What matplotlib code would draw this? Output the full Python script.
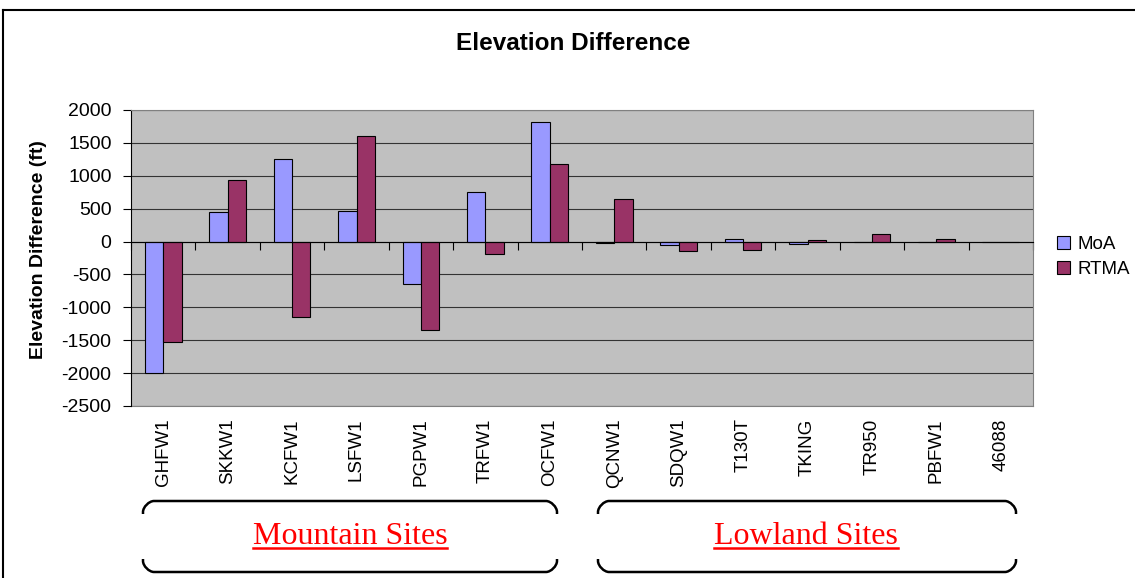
import matplotlib
matplotlib.use("Agg")
import matplotlib.pyplot as plt
from matplotlib.lines import Line2D
from matplotlib.path import Path
from matplotlib.patches import PathPatch, Patch
import numpy as np

sites = ["GHFW1", "SKKW1", "KCFW1", "LSFW1", "PGPW1", "TRFW1", "OCFW1",
         "QCNW1", "SDQW1", "T130T", "TKING", "TR950", "PBFW1", "46088"]
moa = [-2000, 450, 1250, 470, -650, 760, 1810, -15, -55, 45, -35, -12, 0, 0]
rtma = [-1530, 940, -1140, 1610, -1350, -190, 1180, 640, -150, -130, 20, 120, 45, 0]
yticks = [-2500, -2000, -1500, -1000, -500, 0, 500, 1000, 1500, 2000]
groups = ["Mountain Sites", "Lowland Sites"]

plt.rcParams['font.family'] = ['Liberation Sans', 'DejaVu Sans']

W, H = 1135, 578
fig = plt.figure(figsize=(W / 100, H / 100), dpi=100)
L, R, T, B = 131, 1033, 110, 406
ax = fig.add_axes([L / W, 1 - B / H, (R - L) / W, (B - T) / H])
ax.set_facecolor("#C0C0C0")

x = np.arange(len(sites))
w = 1 / 3.5
ax.bar(x - w / 2, moa, w, color="#9999FF", edgecolor="black", linewidth=0.8, zorder=3, label="MoA")
ax.bar(x + w / 2, rtma, w, color="#993366", edgecolor="black", linewidth=0.8, zorder=3, label="RTMA")

ax.set_xlim(-0.5, len(sites) - 0.5)
ax.set_ylim(-2500, 2000)
ax.set_yticks(yticks)
ax.set_yticklabels([str(v) for v in yticks], fontsize=14)
ax.tick_params(axis='y', direction='out', length=6, width=0.8, pad=8)
for v in yticks:
    ax.axhline(v, color="#333333", lw=0.8, zorder=1)

# category axis at zero
ax.spines['bottom'].set_position(('data', 0))
ax.spines['bottom'].set_zorder(4)
ax.set_xticks(np.arange(len(sites) + 1) - 0.5)
ax.set_xticklabels([])
ax.tick_params(axis='x', direction='out', length=6, width=0.8)
ax.spines['left'].set_color('black')
ax.spines['right'].set_color('#808080')
ax.spines['top'].set_color('#808080')

sec = ax.secondary_xaxis(0.0)
sec.set_xticks(x)
sec.set_xticklabels(sites, rotation=90, fontsize=13.5, va='top')
sec.tick_params(length=0, pad=9)
sec.spines['bottom'].set_color('#808080')

ax.set_ylabel("Elevation Difference (ft)", fontsize=14, fontweight='bold')
ax.yaxis.set_label_coords((47 - L) / (R - L), 0.5 + (110 + 296 / 2 - 250) / 296)
fig.text(573 / W, 1 - 43 / H, "Elevation Difference", ha='center', va='center',
         fontsize=17.5, fontweight='bold')

handles = [Patch(facecolor="#9999FF", edgecolor="black", lw=0.8),
           Patch(facecolor="#993366", edgecolor="black", lw=0.8)]
fig.legend(handles, ["MoA", "RTMA"], loc='center left', bbox_to_anchor=(1044 / W, 1 - 257 / H),
           frameon=False, fontsize=13.5, handlelength=0.7, handleheight=0.7,
           handletextpad=0.4, labelspacing=0.45, borderpad=0.2)

# outer frame
fig.add_artist(Line2D([3 / W, 1.0], [1 - 10 / H, 1 - 10 / H], color='black', lw=1.5, transform=fig.transFigure))
fig.add_artist(Line2D([3 / W, 3 / W], [1 - 10 / H, 0], color='black', lw=1.5, transform=fig.transFigure))

# brackets
def bracket(x0, x1, ytop, ybot, r=11, depth=13):
    for (ya, yb) in [(ytop, ytop + depth), (ybot, ybot - depth)]:
        s = 1 if yb > ya else -1
        k = 0.45 * r
        verts = [(x0, yb), (x0, ya + s * r), (x0, ya + s * (r - k)), (x0 + r - k, ya), (x0 + r, ya),
                 (x1 - r, ya), (x1 - r + k, ya), (x1, ya + s * (r - k)), (x1, ya + s * r), (x1, yb)]
        codes = [Path.MOVETO, Path.LINETO, Path.CURVE4, Path.CURVE4, Path.CURVE4,
                 Path.LINETO, Path.CURVE4, Path.CURVE4, Path.CURVE4, Path.LINETO]
        verts = [(vx / W, 1 - vy / H) for vx, vy in verts]
        fig.add_artist(PathPatch(Path(verts, codes), fill=False, lw=1.8, ec='black',
                                 transform=fig.transFigure))

bracket(143, 557, 501, 572)
bracket(598, 1016, 501, 572)

for cx, txt in zip([350, 806], groups):
    fig.text(cx / W, 1 - 537 / H, txt, ha='center', va='center', color='red',
             fontsize=23, family='Liberation Serif')
fig.canvas.draw()
rend = fig.canvas.get_renderer()
for t in fig.texts:
    if t.get_text() in groups:
        bb = t.get_window_extent(rend).transformed(fig.transFigure.inverted())
        fig.add_artist(Line2D([bb.x0, bb.x1], [bb.y0 + 0.006, bb.y0 + 0.006], color='red', lw=1.8,
                              transform=fig.transFigure))

fig.savefig("out.png", dpi=100)
